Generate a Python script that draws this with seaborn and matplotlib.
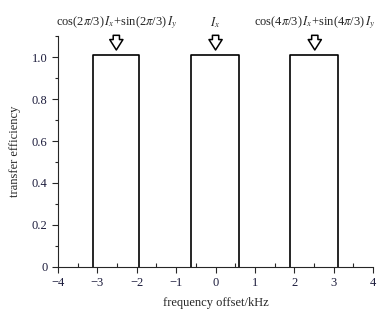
import pandas as pd
import seaborn as sns
import matplotlib.pyplot as plt
from matplotlib.ticker import MultipleLocator

# data
left_edges = [-3.12, -0.62, 1.89]
right_edges = [-1.94, 0.59, 3.10]
heights = [1.01, 1.01, 1.01]
arrow_x = [-2.52, 0.0, 2.52]
labels = [r'cos(2$\pi$/3)$\,I_x$+sin(2$\pi$/3)$\,I_y$',
          r'$I_x$',
          r'cos(4$\pi$/3)$\,I_x$+sin(4$\pi$/3)$\,I_y$']

sns.set_style('ticks')
plt.rcParams['font.family'] = ['Liberation Serif', 'DejaVu Serif']
plt.rcParams['mathtext.fontset'] = 'stix'
plt.rcParams['font.size'] = 9

# outline of each rectangle
rows = []
for i, (l, r, h) in enumerate(zip(left_edges, right_edges, heights)):
    for k, (x, y) in enumerate([(l, 0), (l, h), (r, h), (r, 0)]):
        rows.append({'band': i, 'order': k, 'x': x, 'y': y})
df = pd.DataFrame(rows)

fig = plt.figure(figsize=(3.87, 3.19), dpi=100)
ax = fig.add_axes([0.150, 0.164, 0.814, 0.722])
sns.lineplot(data=df, x='x', y='y', units='band', estimator=None, sort=False,
             color='black', linewidth=1.2, ax=ax)

ax.set_xlim(-4, 4)
ax.set_ylim(0, 1.1)
ax.xaxis.set_minor_locator(MultipleLocator(0.5))
ax.yaxis.set_minor_locator(MultipleLocator(0.1))
ax.set_yticks([0, 0.2, 0.4, 0.6, 0.8, 1.0])
ax.set_yticklabels(['0', '0.2', '0.4', '0.6', '0.8', '1.0'])
ax.set_xticks(range(-4, 5))
ax.set_xticklabels(['\u22124', '\u22123', '\u22122', '\u22121', '0', '1', '2', '3', '4'])
ax.tick_params(axis='both', which='major', direction='out', length=4, width=0.8,
               labelsize=9, labelcolor='#1c1c3c')
ax.tick_params(axis='x', which='minor', direction='in', length=3, width=0.8)
ax.tick_params(axis='y', which='minor', direction='out', length=2.5, width=0.8)
sns.despine(ax=ax)
for s in ['left', 'bottom']:
    ax.spines[s].set_linewidth(0.8)

ax.set_xlabel('frequency offset/kHz', fontsize=9, labelpad=6)
ax.set_ylabel('transfer efficiency', fontsize=9, labelpad=8)

# hollow arrows and labels above each band
for x, lab in zip(arrow_x, labels):
    ax.annotate('', xy=(x, 1.035), xytext=(x, 1.105),
                arrowprops=dict(arrowstyle='simple,head_length=0.75,head_width=0.95,tail_width=0.45',
                                fc='white', ec='black', lw=1.1, mutation_scale=10,
                                shrinkA=0, shrinkB=0),
                annotation_clip=False)
    ax.text(x, 1.165, lab, ha='center', va='center', fontsize=9, clip_on=False)

fig.savefig('out.png', dpi=100)
